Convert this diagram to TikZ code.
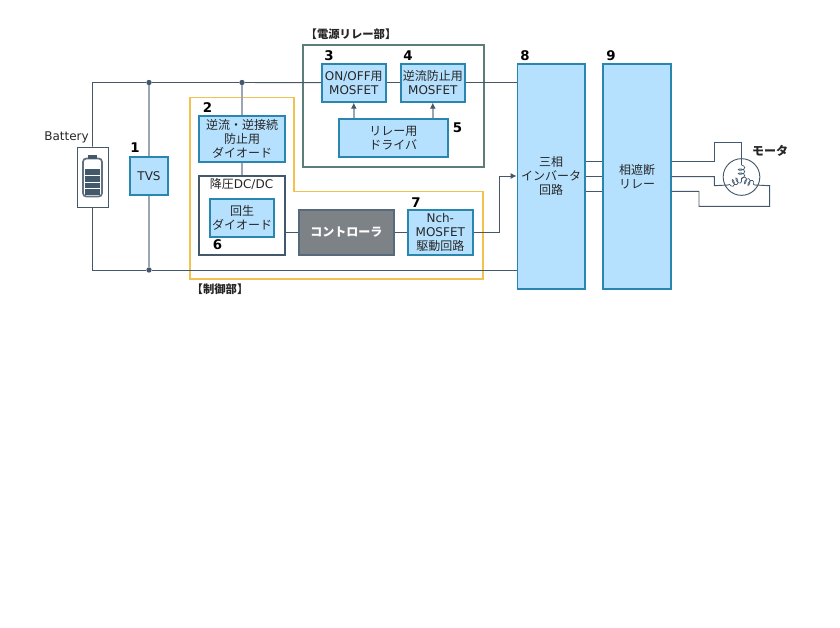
\documentclass[tikz,border=0pt]{standalone}
\usepackage{fontspec}
\setmainfont{DejaVu Sans}
\newfontfamily\jpf{Noto Sans CJK JP}
\usetikzlibrary{arrows.meta}
\usetikzlibrary{decorations.pathmorphing}
\definecolor{wire}{HTML}{44586C}
\definecolor{thickwire}{HTML}{9AA7B2}
\definecolor{boxblue}{HTML}{B5E1FF}
\definecolor{boxedge}{HTML}{2A86AE}
\definecolor{relayedge}{HTML}{5F7D78}
\definecolor{ctrlorange}{HTML}{F2C14E}
\definecolor{ctrlgray}{HTML}{7C8285}
\tikzset{
  txt/.style={font=\fontsize{9}{10.5}\selectfont,text=black!85,inner sep=0pt,align=center},
  bluebox/.style={txt,draw=boxedge,fill=boxblue,line width=1.4pt},
  num/.style={font=\fontsize{10}{12}\selectfont\bfseries,text=black,inner sep=0pt},
  wireline/.style={draw=wire,line width=0.7pt},
  gwire/.style={draw=thickwire,line width=1.5pt},
  dot/.style={circle,fill=wire,inner sep=0pt,minimum size=4pt},
  coilline/.style={draw=wire,line width=0.5pt,decorate,decoration={coil,aspect=0.5,amplitude=2.4pt,segment length=3pt}},
  tip/.style={-{Latex[length=4.5pt,width=4.5pt,color=wire]}}
}
\begin{document}
\begin{tikzpicture}[x=0.75pt,y=-0.75pt]
\useasboundingbox (0,0) rectangle (840,628);
% outer frames
\draw[ctrlorange,line width=1pt] (190,97.7) -- (294,97.7) -- (294,191.7) -- (483,191.7) -- (483,279) -- (190,279) -- cycle;
\draw[relayedge,line width=1.4pt] (303.3,45) rectangle (483.7,167);
% junctions and wire corners
\node[dot] (topa) at (149,82.5) {};
\node[dot] (topb) at (242,82.5) {};
\node[dot] (bota) at (149,270) {};
\coordinate (topleft) at (92.5,82.5);
\coordinate (botleft) at (92.5,270);
% boxes
\node[draw=wire,fill=white,line width=0.7pt,minimum width=23.2pt,minimum height=45pt] (bat) at (92.5,177) {};
\node[bluebox,minimum width=28.5pt,minimum height=28.5pt] (tvs) at (149,176) {TVS};
\node[bluebox,minimum width=64pt,minimum height=34pt] (diode) at (242,139) {\jpf 逆流・逆接続\\\jpf 防止用\\\jpf ダイオード};
\node[draw=wire,fill=white,line width=1.4pt,minimum width=64pt,minimum height=59pt] (dcdc) at (242,215.5) {};
\node[txt,anchor=north] (dcdclabel) at (241.5,178.5) {{\jpf 降圧}DC/DC};
\node[bluebox,minimum width=48pt,minimum height=28.5pt] (regen) at (242,217.7) {\jpf 回生\\\jpf ダイオード};
\node[txt,draw=wire!90,fill=ctrlgray,line width=1.4pt,text=white,minimum width=71pt,minimum height=34pt,font=\fontsize{9}{10.5}\selectfont\bfseries\jpf] (ctrl) at (346.3,232.5) {コントローラ};
\node[bluebox,minimum width=48.5pt,minimum height=34pt] (nch) at (440.3,232.5) {Nch-\\MOSFET\\\jpf 駆動回路};
\node[bluebox,minimum width=48pt,minimum height=28.5pt] (onoff) at (353.8,82.7) {ON/OFF{\jpf 用}\\MOSFET};
\node[bluebox,minimum width=48pt,minimum height=28.5pt] (rev) at (432.8,82.7) {\jpf 逆流防止用\\MOSFET};
\node[bluebox,minimum width=82pt,minimum height=28.5pt] (drv) at (393.3,138.3) {\jpf リレー用\\\jpf ドライバ};
\node[bluebox,minimum width=50.5pt,minimum height=169pt] (inv) at (551.2,176.5) {};
\node[txt,font=\fontsize{9}{10.5}\selectfont\jpf] (invlabel) at (551.2,176) {三相\\インバータ\\回路};
\node[bluebox,minimum width=50.5pt,minimum height=169pt] (relay) at (637,176.5) {\jpf 相遮断\\\jpf リレー};
% power wires
\draw[wireline] (bat.north) -- (topleft) -- (topa) -- (topb) -- (onoff.west);
\draw[wireline] (onoff.east) -- (rev.west);
\draw[wireline] (rev.east) -- (rev.east -| inv.west);
\draw[wireline] (bat.south) -- (botleft) -- (bota) -- (bota -| inv.west);
\draw[gwire] (topa) -- (tvs.north);
\draw[gwire] (tvs.south) -- (bota);
\draw[gwire] (topb) -- (diode.north);
\draw[gwire] (diode.south) -- (dcdc.north);
% control wires
\draw[wireline] (dcdc.east |- ctrl.west) -- (ctrl.west);
\draw[wireline] (ctrl.east) -- (nch.west);
\draw[wireline,tip] (nch.east) -- (499,232.5) -- (499,176) -- (inv.west |- 0,176);
\draw[gwire,tip] (drv.north -| onoff) -- (onoff.south);
\draw[gwire,tip] (drv.north -| rev) -- (rev.south);
% phases
\foreach \y in {161.3,176.7,191.3}
\draw[wireline] (inv.east |- 0,\y) -- (relay.west |- 0,\y);
% motor
\node[draw=wire,fill=white,circle,line width=0.7pt,minimum size=27.5pt,inner sep=0pt] (motor) at (741.5,177) {};
\coordinate (star) at (741.5,179);
\coordinate (topcoil) at (741.5,165);
\coordinate (leftcoil) at (728,185);
\coordinate (rightcoil) at (755,185);
\draw[wireline] (relay.east |- 0,161.3) -- (714.3,161.3) -- (714.3,142.7) -- (741.5,142.7) -- (topcoil);
\draw[wireline] (relay.east |- 0,176.7) -- (714.3,176.7) -- (714.3,185.7) -- (leftcoil);
\draw[wireline] (relay.east |- 0,191.3) -- (699,191.3) -- (699,206.3) -- (769.7,206.3) -- (769.7,185.7) -- (rightcoil);
\draw[coilline] (topcoil) -- (star);
\draw[coilline] (star) -- (leftcoil);
\draw[coilline] (star) -- (rightcoil);
% battery icon
\draw[wire!85,line width=1.3pt,rounded corners=2.5pt,fill=white] (83,158.5) rectangle (102,196.5);
\fill[wire] (88,155) rectangle (97,158.5);
\foreach \y in {169,176,182.7,189.3}
\fill[wire] (85.3,\y) rectangle (99.7,\y+5.7);
% labels
\node[txt] (batlabel) at (66.5,137.5) {Battery};
\node[num] (n1) at (135,148) {1};
\node[num] (n2) at (207.5,108) {2};
\node[num] (n3) at (329,55.5) {3};
\node[num] (n4) at (408,55.5) {4};
\node[num] (n5) at (457.5,127.5) {5};
\node[num] (n6) at (217.5,245) {6};
\node[num] (n7) at (416,202.5) {7};
\node[num] (n8) at (525,55.5) {8};
\node[num] (n9) at (611,55.5) {9};
\node[txt,font=\fontsize{8.5}{10}\selectfont\bfseries\jpf] (relaylabel) at (351,34) {【電源リレー部】};
\node[txt,font=\fontsize{8.5}{10}\selectfont\bfseries\jpf] (ctrllabel) at (220,289.5) {【制御部】};
\node[txt,font=\fontsize{9}{10.5}\selectfont\bfseries\jpf] (motorlabel) at (770,151) {モータ};
\end{tikzpicture}
\end{document}
